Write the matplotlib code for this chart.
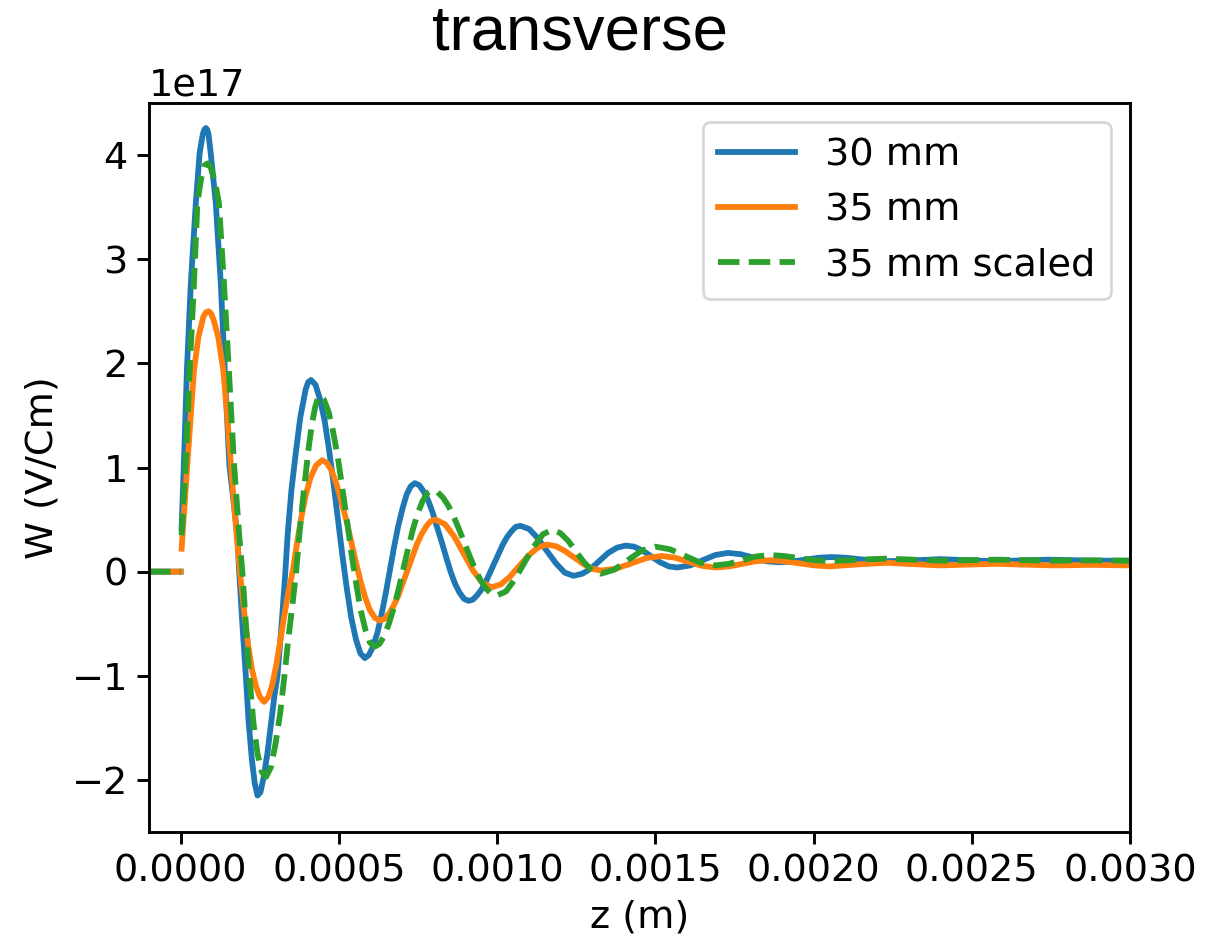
import matplotlib
matplotlib.use("Agg")
import matplotlib.pyplot as plt
import numpy as np

nan = np.nan

# z in micrometres, W in units of 1e17 V/Cm
# 30 mm
z_30 = [-100, -50, 0, nan,
        3, 10, 20, 32, 48, 60, 70, 75, 80, 84, 88, 95, 111, 127, 140, 154, 167, 179,
        185, 195, 206, 215, 225, 234, 243, 252, 262, 274, 286, 296, 306, 318,
        331, 338, 350, 363, 378, 395, 403, 412, 426, 440, 455, 469, 483, 497, 511, 525, 539, 554, 568, 582,
        595, 608, 622, 635, 648, 661, 674, 687, 701, 714, 727, 740,
        754, 768, 782, 796, 810, 825, 839, 853, 867, 881, 895, 909,
        923, 936, 950, 964, 977, 991, 1005, 1018, 1032, 1046, 1059, 1073,
        1101, 1129, 1157, 1186, 1214, 1242,
        1269, 1297, 1324, 1351, 1379, 1406, 1433, 1461, 1488, 1515, 1543, 1570,
        1610, 1650, 1690, 1730, 1770, 1810, 1850, 1890, 1932, 1974, 2015, 2057,
        2100, 2143, 2187, 2230, 2315, 2400, 2485, 2570, 2655, 2740, 2820, 2900, 3000]
w_30 = [0, 0, 0, nan,
        0.42, 1.02, 1.95, 2.76, 3.54, 4.02, 4.2, 4.245, 4.26, 4.245, 4.2, 4.02, 3.54, 2.76, 1.9, 1.02, 0.68, 0.35,
        0.0, -0.5, -1.0, -1.45, -1.8, -2.03, -2.15, -2.12, -1.98, -1.75, -1.45, -1.2, -1.0, -0.55,
        0.0, 0.35, 0.78, 1.12, 1.48, 1.75, 1.82, 1.84, 1.795, 1.66, 1.45, 1.17, 0.85, 0.505, 0.16, -0.16, -0.44, -0.65, -0.785, -0.83,
        -0.80, -0.72, -0.585, -0.41, -0.21, 0.01, 0.23, 0.43, 0.605, 0.74, 0.82, 0.85,
        0.83, 0.77, 0.685, 0.57, 0.43, 0.285, 0.14, 0.0, -0.115, -0.20, -0.26, -0.28,
        -0.27, -0.23, -0.175, -0.10, -0.013, 0.08, 0.173, 0.26, 0.335, 0.39, 0.43, 0.44,
        0.41, 0.32, 0.2, 0.08, -0.01, -0.04,
        -0.02, 0.03, 0.105, 0.18, 0.23, 0.25, 0.24, 0.2, 0.145, 0.09, 0.05, 0.04,
        0.06, 0.11, 0.16, 0.18, 0.167, 0.135, 0.10, 0.09, 0.097, 0.115, 0.133, 0.14,
        0.134, 0.12, 0.106, 0.10, 0.108, 0.12, 0.11, 0.10, 0.108, 0.115, 0.11, 0.105, 0.105]

# 35 mm
z_35 = [-100, -50, 0, nan,
        3, 12, 21, 32, 42, 56, 72, 80, 88, 96, 104, 119, 135, 147, 159, 170, 180,
        190, 202, 214, 226, 238, 250, 264, 278, 290, 302, 314, 326, 340, 354,
        365, 380, 395, 410, 428, 447,
        462, 477, 492, 507, 523, 538, 553, 568, 583, 598, 614, 629,
        644, 658, 673, 688, 702, 717, 732, 746, 761, 776, 790, 805,
        835, 864, 894, 924, 953, 983,
        1012, 1041, 1070, 1100, 1129, 1158, 1187, 1215, 1244, 1273, 1301, 1330,
        1377, 1425, 1472, 1520, 1562, 1605, 1647, 1690, 1732, 1775, 1817, 1860,
        1907, 1955, 2002, 2050, 2140, 2230, 2315, 2400, 2490, 2580, 2670, 2760, 2880, 3000]
w_35 = [0, 0, 0, nan,
        0.22, 0.62, 1.02, 1.5, 1.93, 2.25, 2.45, 2.49, 2.5, 2.48, 2.42, 2.25, 1.93, 1.5, 1.02, 0.6, 0.25,
        -0.08, -0.42, -0.72, -0.95, -1.1, -1.2, -1.25, -1.2, -1.08, -0.9, -0.68, -0.45, -0.2, 0.0,
        0.22, 0.5, 0.73, 0.9, 1.02, 1.07,
        1.044, 0.97, 0.845, 0.685, 0.5, 0.3, 0.1, -0.085, -0.245, -0.37, -0.444, -0.47,
        -0.454, -0.405, -0.328, -0.23, -0.11, 0.015, 0.14, 0.26, 0.358, 0.435, 0.484, 0.50,
        0.456, 0.34, 0.175, 0.01, -0.107, -0.15,
        -0.122, -0.047, 0.055, 0.157, 0.232, 0.26, 0.243, 0.197, 0.135, 0.072, 0.027, 0.01,
        0.03, 0.08, 0.13, 0.15, 0.134, 0.095, 0.056, 0.04, 0.05, 0.075, 0.1, 0.11,
        0.1, 0.08, 0.06, 0.05, 0.07, 0.085, 0.072, 0.06, 0.068, 0.075, 0.067, 0.06, 0.065, 0.06]

# 35 mm scaled
z_35s = [-100, -50, 0, nan,
         3, 16, 28, 42, 53, 65, 75, 85, 95, 108, 121, 137, 153, 169, 185,
         195, 206, 217, 230, 243, 256, 270, 285, 300, 315, 328, 342, 354, 365,
         375, 390, 405, 415, 425, 432, 439,
         453, 468, 482, 497, 511, 526, 540, 555, 569, 584, 598, 613,
         628, 643, 658, 674, 689, 704, 719, 734, 749, 765, 780, 795,
         812, 829, 846, 863, 880, 897, 914, 931, 948, 965, 982, 999,
         1028, 1057, 1086, 1116, 1145, 1174, 1200, 1225, 1250, 1276, 1301, 1327,
         1370, 1413, 1457, 1500, 1547, 1595, 1642, 1690, 1732, 1775, 1817, 1860,
         1907, 1955, 2002, 2050, 2140, 2230, 2315, 2400, 2490, 2580, 2670, 2760, 2880, 3000]
w_35s = [0, 0, 0, nan,
         0.35, 1.02, 1.9, 2.76, 3.54, 3.78, 3.9, 3.92, 3.88, 3.75, 3.54, 2.76, 1.9, 1.02, 0.35,
         0.0, -0.5, -1.0, -1.45, -1.75, -1.92, -1.97, -1.88, -1.65, -1.35, -1.0, -0.6, -0.3, 0.0,
         0.35, 0.8, 1.2, 1.42, 1.58, 1.65, 1.69,
         1.65, 1.53, 1.34, 1.09, 0.80, 0.485, 0.17, -0.12, -0.37, -0.56, -0.68, -0.72,
         -0.695, -0.62, -0.50, -0.345, -0.165, 0.03, 0.225, 0.405, 0.56, 0.68, 0.755, 0.78,
         0.763, 0.712, 0.633, 0.528, 0.405, 0.275, 0.145, 0.02, -0.083, -0.162, -0.213, -0.23,
         -0.19, -0.07, 0.085, 0.24, 0.36, 0.40, 0.37, 0.295, 0.19, 0.085, 0.01, -0.02,
         0.018, 0.11, 0.202, 0.24, 0.214, 0.15, 0.086, 0.06, 0.075, 0.11, 0.145, 0.16,
         0.15, 0.13, 0.11, 0.10, 0.115, 0.125, 0.115, 0.105, 0.11, 0.115, 0.11, 0.105, 0.108, 0.105]

labels = ["30 mm", "35 mm", "35 mm scaled"]

plt.rcParams["font.size"] = 14.5
plt.rcParams["lines.linewidth"] = 2.2
plt.rcParams["axes.linewidth"] = 1.1
plt.rcParams["xtick.major.width"] = 1.1
plt.rcParams["ytick.major.width"] = 1.1
plt.rcParams["xtick.major.size"] = 4.5
plt.rcParams["ytick.major.size"] = 4.5

fig = plt.figure(figsize=(1216 / 190, 937 / 190), dpi=190)
ax = fig.add_axes([149 / 1216, 1 - 832 / 937, (1130 - 149) / 1216, (832 - 103) / 937])

ax.plot(np.array(z_30) * 1e-6, np.array(w_30) * 1e17, color="#1f77b4", label=labels[0])
ax.plot(np.array(z_35) * 1e-6, np.array(w_35) * 1e17, color="#ff7f0e", label=labels[1])
ax.plot(np.array(z_35s) * 1e-6, np.array(w_35s) * 1e17, "--", color="#2ca02c", label=labels[2])

ax.set_xlim(-0.0001, 0.003)
ax.set_ylim(-2.5e17, 4.5e17)
ax.set_xticks(np.arange(0, 0.00301, 0.0005))
ax.set_xlabel("z (m)")
ax.set_ylabel("W (V/Cm)")
ax.legend(loc="upper right")

fig.text(580 / 1216, 1 - 33 / 937, "transverse", ha="center", va="center",
         fontsize=24, family="Liberation Sans")

fig.savefig("out.png", dpi=190)
